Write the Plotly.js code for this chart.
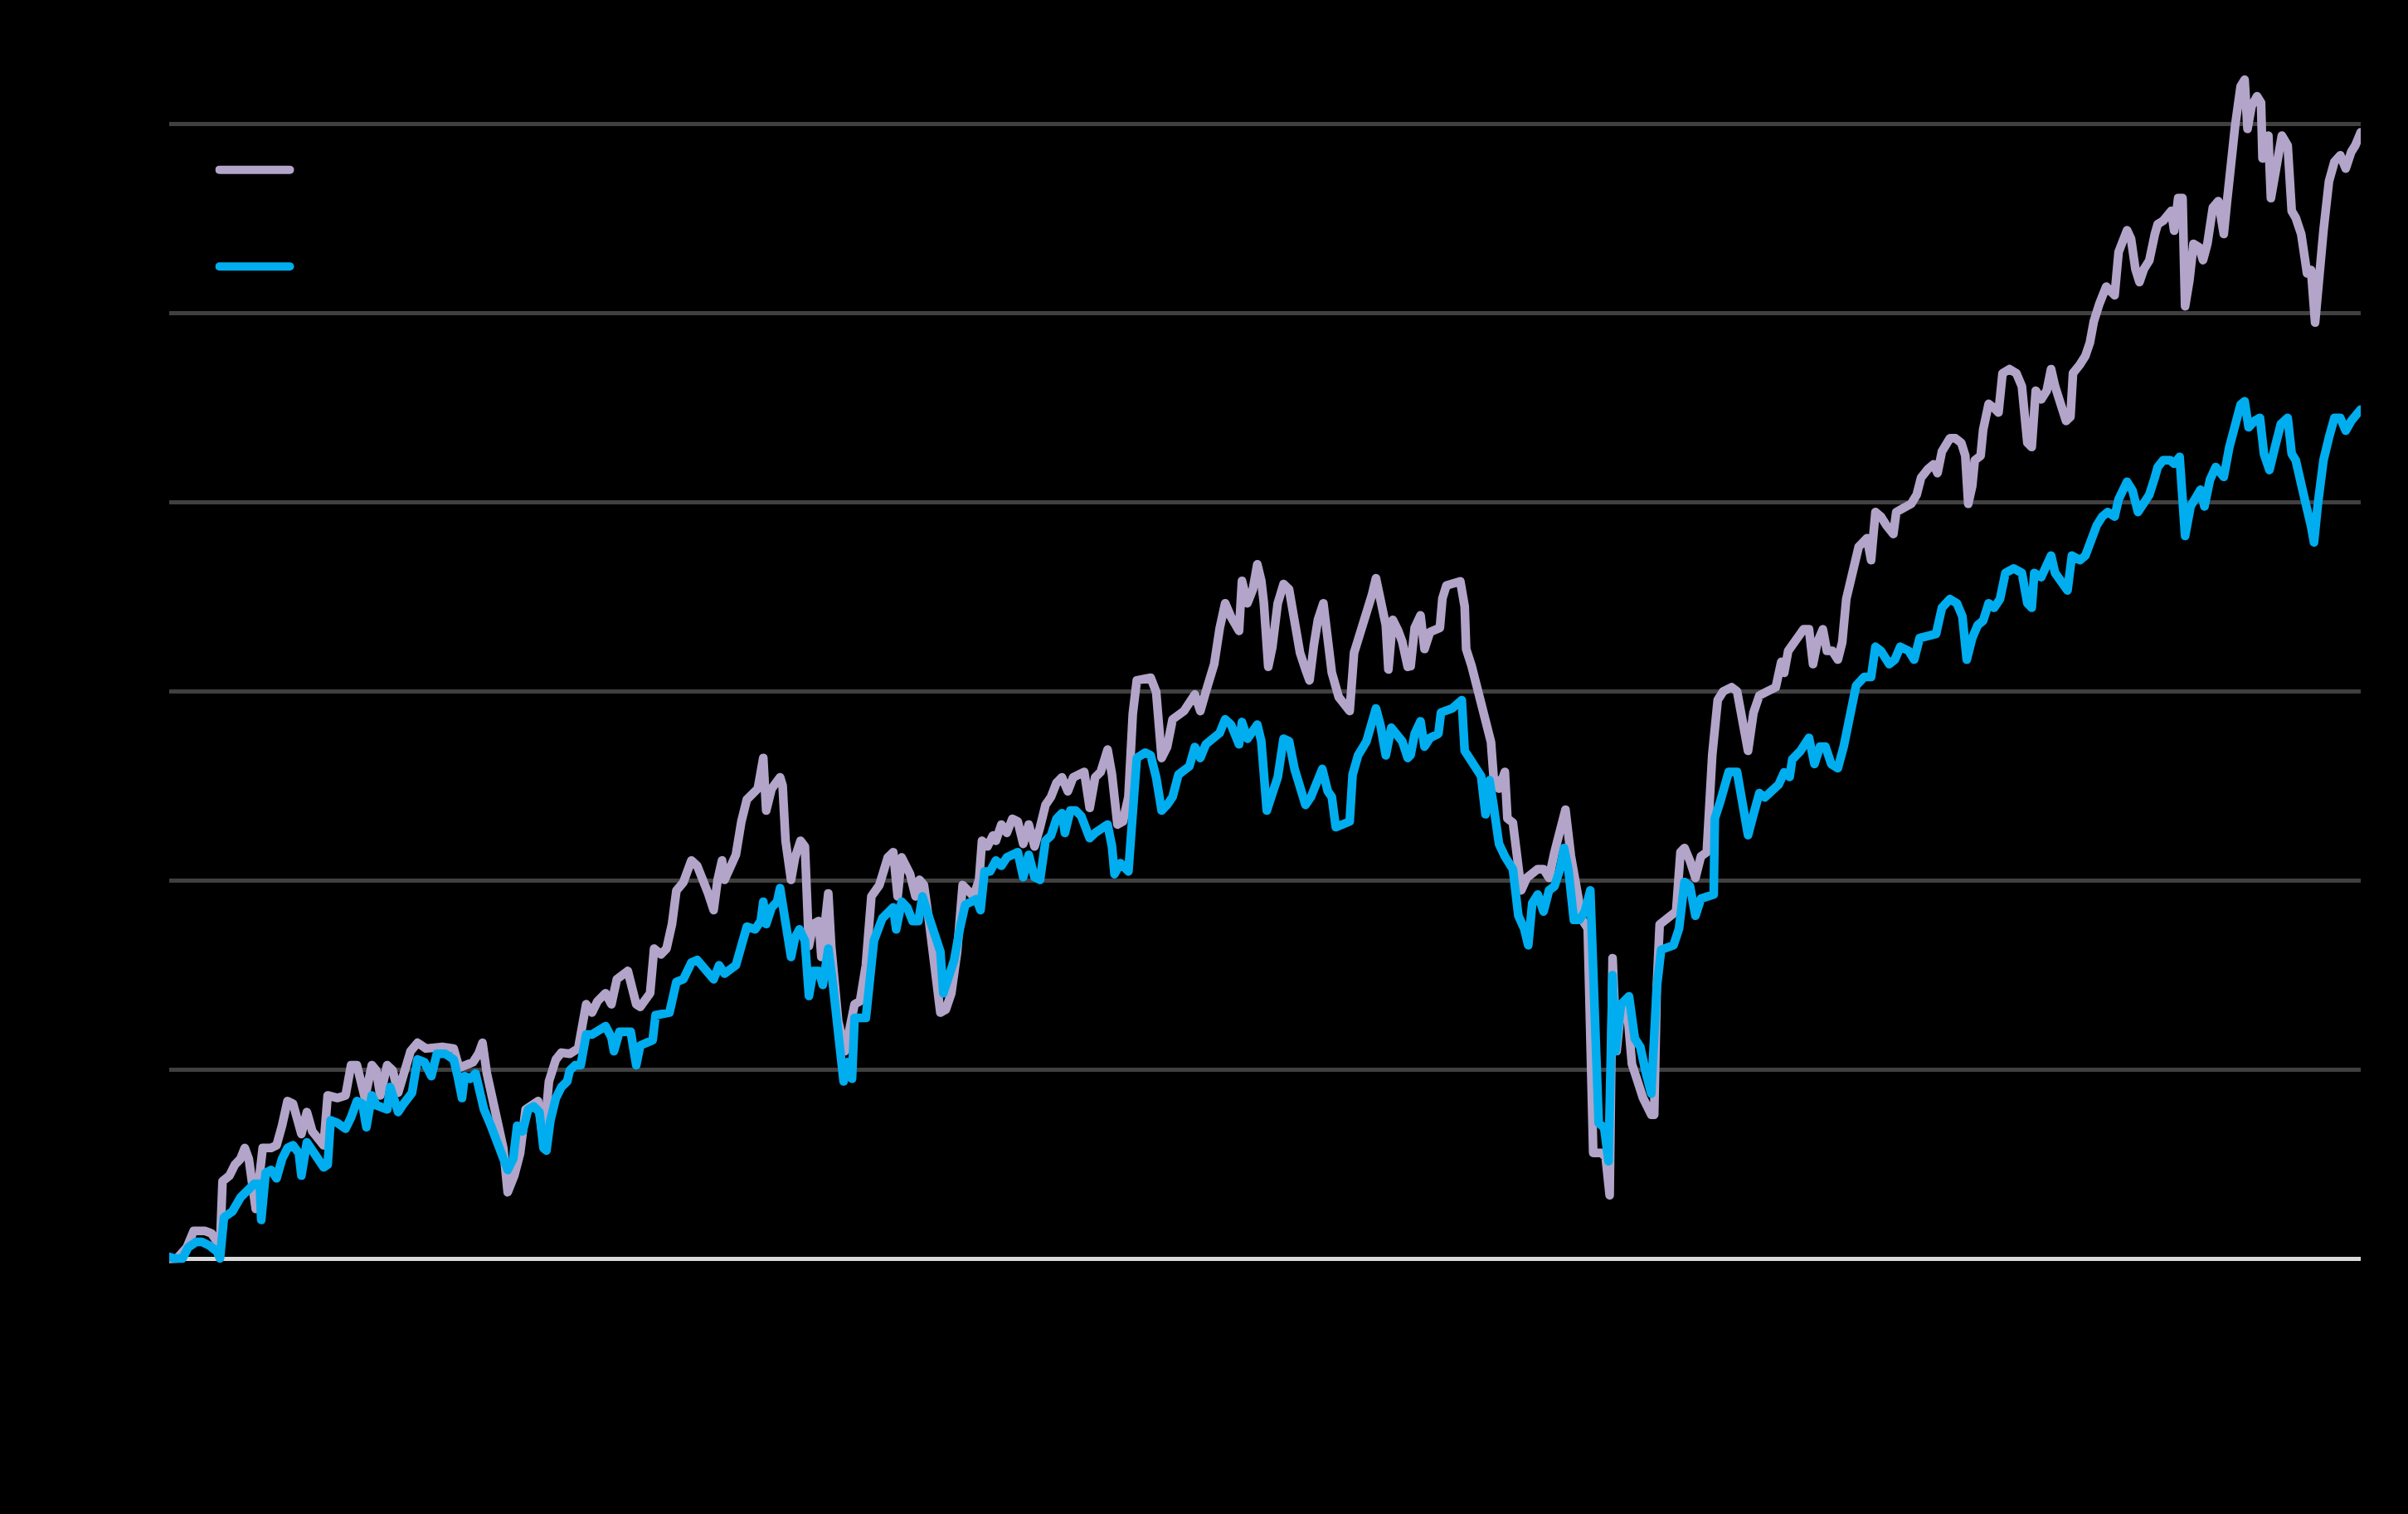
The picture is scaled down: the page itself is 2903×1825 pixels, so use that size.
<!DOCTYPE html>
<html>
<head>
<meta charset="utf-8">
<script src="https://cdn.plot.ly/plotly-3.0.1.min.js"></script>
<style>
  html, body { margin: 0; padding: 0; background: #000000; }
  #chart { width: 2903px; height: 1825px; }
  #chart path.js-line { stroke-linejoin: round; stroke-linecap: round; }
</style>
</head>
<body>
<div id="chart"></div>
<script>
// Cumulative return (%) by week since start
var seriesNames = ["Portfolio", "Benchmark"];

var weeksA = [0,2.1,4.8,6.7,9.7,11.6,13.1,13.9,14.6,16.5,18.0,19.5,20.7,21.8,23.7,25.6,27.9,29.4,30.9,32.4,33.9,36.2,37.7,39.2,42.3,43.4,46.1,48.3,49.8,51.4,53.6,55.5,56.7,57.8,59.7,61.2,62.7,64.2,66.1,68.0,70.3,74.8,77.9,79.4,83.2,84.7,85.8,87.0,88.5,90.0,91.5,92.7,94.5,96.1,97.6,101.0,102.1,103.3,104.0,105.9,107.4,109.7,112.0,
  114.2,115.8,117.3,119.5,121.1,122.6,125.6,127.9,129.0,131.7,132.8,134.7,136.2,137.7,138.9,140.8,143.0,144.6,147.6,149.1,150.2,151.4,152.1,153.6,155.2,156.7,158.2,161.2,162.7,163.5,165.0,167.3,168.0,168.8,170.3,171.4,172.9,174.1,175.2,176.4,177.9,178.6,179.4,180.5,181.3,183.2,185.1,186.6,187.7,189.2,190.8,192.3,194.5,196.8,198.3,199.5,200.6,202.9,204.4,205.5,206.7,208.2,209.7,211.2,212.7,214.2,215.8,217.3,218.8,220.3,221.8,222.6,224.1,225.6,
  226.4,227.9,229.4,230.9,232.4,233.9,235.4,237.0,238.5,240.0,241.5,243.0,244.5,246.1,247.6,250.6,252.1,253.6,255.1,257.0,258.2,259.7,261.2,262.7,263.9,265.0,268.8,270.3,271.8,273.3,274.8,277.9,280.9,282.4,283.9,286.2,287.7,289.2,290.8,293.0,293.8,295.3,296.8,298.0,299.1,299.8,301.0,302.1,303.6,305.2,306.7,308.2,309.7,311.2,312.3,313.5,314.6,316.1,317.3,318.4,320.3,323.3,324.5,326.4,327.9,329.4,330.5,331.7,333.2,333.9,335.1,336.6,337.7,339.2,
  340,341.1,342.7,343.8,345.3,348.0,348.7,349.8,353.6,354.8,355.2,356.7,358.2,359.7,361.2,362.0,362.7,364.2,365.8,366.5,368.0,368.8,370.3,371.8,374.8,376.4,377.9,379.4,380.9,382.4,383.9,385.5,387.0,388.5,390.0,392.3,393.4,394.5,395.3,396.4,397.6,399.1,400.6,402.1,403.6,405.9,406.7,407.4,408.2,411.2,412.7,413.9,415.0,416.5,418.0,419.5,421.1,422.6,424.1,425.6,427.9,429.4,430.9,432.4,433.9,435.5,437.7,440.0,441.5,
  442.3,443.4,445.3,447.6,449.1,450.2,451.4,452.9,454.0,455.5,457.0,458.2,459.3,461.2,462.7,465.0,466.1,467.3,468.8,470.3,472.2,473.0,474.8,477.1,478.6,479.8,481.7,483.2,484.3,485.5,487.7,489.2,490.8,491.9,492.7,493.8,494.5,496.1,496.8,498.3,499.8,501.0,502.1,504.0,505.9,507.4,508.9,510.1,511.2,512.7,514.2,515.4,516.5,518.0,519.5,520.7,521.4,523.3,524.8,526.0,527.1,528.6,530.5,532.8,533.9,536.2,537.3,538.5,539.6,540.8,542.3,543.8,
  544.6,546.1,548.3,549.1,550.2,551.4,552.1,553.3,554.4,555.9,557.0,558.2,559.7,561.2,562.7,563.5,564.6,565.8,567.3,568.4,569.2,570.3,571.8,572.9,573.3,574.9,575.6,577.1,578.6,580.2,581.3,582.4,583.9,585.5,586.6,587.7,588.5,590.0,591.5,593.0,594.6,596.1,597.6,598.7,600.2];

var valuesA = [0,0.1,3.0,7.4,7.4,6.7,4.5,3.0,20.5,22.0,24.9,26.4,29.3,26.4,13.2,29.3,29.3,30.0,35.2,41.7,41.0,33.0,38.8,33.7,30.0,43.2,42.5,43.2,51.2,51.2,42.5,51.2,49.8,43.2,51.2,49.8,43.9,48.3,54.9,57.1,55.6,56.0,55.6,50.5,52.0,54.2,57.1,49.0,41.7,36.6,29.3,17.6,22.0,27.9,39.5,41.7,33.7,39.5,46.9,52.7,54.5,54.2,55.6,
  67.3,65.1,68.1,70.2,67.3,73.9,76.1,67.3,66.6,70.2,82.0,80.5,82.0,88.5,97.3,99.5,105.3,103.9,96.6,92.2,100.2,105.3,100.2,103.1,106.8,115.6,121.4,124.3,132.4,118.5,124.3,127.3,125.1,110.5,100.2,106.1,110.5,109.0,82.7,88.5,89.3,79.8,88.5,96.6,82.7,62.9,54.9,62.9,67.3,68.1,77.6,95.8,98.8,106.1,107.5,95.8,106.1,101.7,95.8,100.2,98.8,88.5,78.3,65.1,65.9,70.2,81.2,98.8,97.3,95.8,100.2,110.5,109.0,111.9,
  110.5,114.8,112.6,116.3,115.6,109.7,114.8,109.0,114.1,120.0,122.1,125.8,127.3,123.6,127.3,128.7,119.2,127.3,128.7,134.6,128.0,114.8,115.6,122.1,144.1,152.9,153.6,149.9,132.4,135.3,142.6,144.8,149.2,144.8,149.9,157.2,166.7,173.3,169.7,166.0,179.2,173.3,177.0,183.6,179.2,173.3,156.5,161.6,173.3,178.4,177.0,166.7,160.2,155.8,152.9,162.3,168.9,173.3,162.3,155.0,148.5,144.8,160.2,166.0,169.7,175.5,179.9,174.8,167.5,155.8,168.9,166.0,163.1,156.5,
  156.7,166.8,170.1,161.2,165.7,166.8,174.6,178.0,179.1,172.4,161.2,156.7,151.1,143.3,138.8,136.6,127.6,124.3,128.7,116.4,115.3,107.5,97.4,100.7,103.0,103.0,100.7,107.5,114.2,118.7,106.4,98.5,89.6,87.3,28.0,28.0,26.9,16.8,79.5,54.9,66.1,68.3,51.5,47.1,42.6,38.1,38.1,71.7,88.4,90.7,91.8,107.5,108.6,105.2,100.7,106.4,107.5,133.2,147.7,150.0,151.1,150.0,141.0,134.3,144.4,148.9,150.0,151.1,157.8,
  154.9,160.7,163.0,166.4,166.4,157.2,163.0,166.4,160.7,160.7,158.4,163.0,174.4,183.6,188.2,190.5,184.7,197.4,196.2,193.9,191.6,197.4,198.5,199.6,202.0,206.5,208.8,210.0,207.7,213.4,216.9,216.9,215.7,212.3,199.6,204.3,211.1,212.3,219.2,226.0,224.9,223.7,234.1,235.2,234.1,230.6,215.7,214.6,229.5,227.2,229.5,235.2,230.6,226.0,221.5,222.6,234.1,236.4,238.7,242.1,247.8,252.4,257.0,254.7,266.2,271.9,269.6,261.6,258.2,261.6,263.9,270.8,
  273.5,274.4,277.0,271.8,280.4,280.4,251.8,258.8,268.3,267.4,264.0,268.3,277.9,279.6,270.9,278.7,290.9,299.5,309.9,311.7,298.7,304.7,307.3,305.6,290.9,296.9,280.4,289.1,296.9,294.3,277.0,275.2,270.9,260.5,261.4,247.5,258.8,271.8,284.8,290.0,291.7,288.2,292.6,294.3,297.8];

var weeksB = [0,1.4,3.6,5.2,7.4,8.9,11.2,13.1,13.9,15.0,17.3,19.5,21.8,23.3,24.8,25.2,26.4,27.9,29.4,30.9,32.4,33.9,35.5,36.2,37.7,39.2,40.8,42.3,43.4,44.2,46.1,48.3,49.8,51.4,52.9,54.0,55.5,56.7,59.7,60.5,62.0,62.7,64.2,66.5,68.0,69.9,71.8,73.3,75.6,77.9,79.0,80.2,80.9,82.4,83.9,85.1,86.2,88.1,90.0,91.5,92.7,94.2,95.3,96.8,98.3,99.8,101.4,102.5,103.3,104.4,105.9,107.4,109.0,109.7,111.2,112.7,
  114.2,115.8,117.3,119.5,121.1,121.8,123.3,126.4,127.9,129.0,132.4,133.2,137.0,138.9,140.8,143.0,144.6,149.1,150.6,152.1,155.2,156.7,158.2,160.5,162.0,162.7,163.5,165.0,166.5,167.3,168.8,170.3,171.4,172.6,174.1,175.2,176.4,177.9,179.0,180.5,181.7,183.2,184.7,185.8,187.0,187.7,190.8,191.9,193.0,195.3,198.3,199.1,200.6,202.1,203.6,205.2,206.3,208.2,209.7,211.2,212.0,213.5,215.0,216.5,218.0,221.1,222.2,223.3,224.8,
  226.4,227.9,229.4,232.4,233.9,235.4,237.0,238.5,240.0,241.5,243.0,244.5,245.3,246.8,248.3,249.8,252.1,253.6,257.0,258.2,258.9,260.5,262.7,263.9,265.0,267.3,268.8,270.3,271.8,273.3,274.8,276.4,279.4,280.9,282.4,283.9,286.2,287.7,289.2,290.8,293.0,293.8,295.3,296.8,298.0,299.1,300.6,302.1,303.6,305.2,306.7,308.2,309.7,311.2,312.7,314.2,315.8,317.3,318.4,319.5,321.8,323.3,324.1,325.6,327.9,329.4,330.5,331.7,333.2,334.7,336.2,337.7,339.2,
  340,341.1,342.7,343.8,345.3,347.6,348.3,351.4,354.0,354.8,356.7,359.3,360.5,361.6,362.7,364.2,365.8,368.0,369.5,371.1,372.2,373.3,374.8,376.4,377.9,379.4,380.9,382.0,383.2,384.7,386.2,387.7,389.2,390.4,391.5,393.0,394.2,395.3,396.1,397.6,399.8,401.4,402.9,404.4,405.9,407.4,408.6,412.0,413.5,415.0,416.5,418.0,419.5,423.0,423.3,424.8,427.1,429.4,430.9,432.4,433.9,435.5,437.0,438.5,440.8,
  442.3,443.8,444.5,446.8,449.1,450.6,452.1,453.6,455.2,457.0,458.6,460.1,462.0,464.2,466.1,467.3,468.8,471.1,472.6,474.1,476.4,477.9,479.4,483.9,485.5,487.7,489.6,491.1,492.3,493.8,495.3,496.8,498.3,499.8,501.4,502.9,505.2,507.4,508.9,510.1,510.8,512.7,515.4,516.5,518.0,519.9,521.1,523.3,524.8,526.4,527.9,529.4,530.9,532.8,533.9,536.2,537.7,539.2,540.8,542.3,543.8,
  544.6,546.1,548.0,549.1,550.6,552.1,553.6,555.2,556.3,557.4,558.9,560.5,562.7,564.2,565.8,567.3,568.4,569.5,571.1,572.6,573.7,575.2,576.7,578.3,580.2,581.3,582.4,583.9,585.1,586.6,587.4,588.5,590.0,591.5,593.0,594.6,596.1,597.6,599.1,600.2];

var valuesB = [0.5,0.1,0.1,3.0,4.5,4.5,3.4,1.9,0.1,11.0,12.5,16.2,18.4,19.8,19.8,10.3,22.7,23.5,21.3,26.4,29.3,30.0,27.9,22.0,30.8,28.6,25.7,24.2,24.9,36.6,35.9,34.4,37.4,41.7,41.0,34.8,43.2,40.6,39.5,45.4,41.0,38.8,41.0,43.9,52.7,52.0,48.3,54.2,54.2,52.7,48.3,42.5,48.3,47.6,49.0,43.2,39.5,35.2,30.8,27.1,23.5,26.4,35.2,33.7,39.5,40.3,38.8,29.3,28.6,36.6,42.5,45.4,46.9,49.8,51.2,51.2,
  59.3,59.3,60.0,61.5,58.6,54.9,60.0,60.0,51.2,56.4,57.8,64.4,65.1,73.2,73.9,78.3,79.0,73.9,77.6,75.4,77.6,83.4,87.8,87.1,89.3,94.4,88.5,92.9,94.4,98.0,88.5,79.8,84.9,87.1,84.1,69.5,76.1,76.1,72.4,82.0,73.2,62.2,46.9,52.0,47.6,63.7,63.7,73.9,84.1,90.0,92.9,87.1,94.4,92.9,89.3,89.3,95.8,90.0,84.9,81.2,70.2,73.9,79.0,87.1,93.6,95.1,92.2,102.4,102.4,
  105.3,103.9,106.1,107.5,100.9,106.8,100.9,100.2,110.5,111.9,116.3,117.8,112.6,118.5,118.5,117.0,111.2,112.6,114.8,109.0,101.7,104.6,102.4,122.1,132.4,133.8,133.1,127.3,118.5,120.0,122.1,128.0,130.2,135.3,132.4,136.0,137.5,139.0,142.6,141.2,136.0,141.9,137.5,139.7,141.2,136.8,118.5,122.9,127.3,137.5,136.8,129.5,125.1,120.0,122.1,126.5,129.5,123.6,122.1,114.1,114.8,115.6,128.0,133.1,136.8,141.2,145.5,141.2,133.1,140.4,138.2,136.8,132.4,
  133.2,138.8,142.1,135.4,137.7,138.8,144.4,145.5,147.7,134.3,131.0,127.6,117.5,126.5,119.8,109.7,106.4,103.0,90.7,87.3,82.9,94.0,96.3,91.8,97.4,98.5,103.0,108.6,103.0,89.6,89.6,91.8,97.4,60.5,35.9,34.7,25.8,75.0,54.9,67.2,69.4,58.2,56.0,49.3,43.7,71.7,81.7,82.9,87.3,99.6,98.5,90.7,95.2,96.3,116.4,120.9,128.7,128.7,118.7,112.0,117.5,123.1,122.0,123.1,125.4,
  128.6,127.4,132.0,134.3,137.7,130.8,135.4,135.4,130.8,129.7,135.4,143.5,151.5,153.8,153.8,161.8,160.7,157.2,158.4,161.8,160.7,158.4,164.1,165.2,172.1,174.4,173.3,169.8,158.4,164.1,167.5,168.7,173.3,172.1,174.4,181.3,182.5,181.3,173.3,172.1,181.3,180.2,185.9,181.3,179.0,176.7,185.9,184.7,185.9,190.5,193.9,196.2,197.4,196.2,200.8,205.4,203.1,197.4,199.6,202.0,206.5,
  209.3,211.1,211.1,210.2,212.0,191.1,198.9,201.5,203.3,198.9,205.9,209.3,206.7,214.5,221.5,225.8,226.7,219.8,221.5,222.3,212.8,208.5,214.5,220.6,222.3,212.8,211.1,205.9,199.8,193.7,189.4,199.8,211.1,217.1,222.3,222.3,218.9,221.5,223.2,224.5];

var yTicks = [0, 50, 100, 150, 200, 250, 300];

var traces = [
  {
    x: weeksA, y: valuesA, name: seriesNames[0], type: "scatter", mode: "lines",
    legendgroup: "a",
    line: { color: "#B3A5C9", width: 10.5 }
  },
  {
    x: weeksB, y: valuesB, name: seriesNames[1], type: "scatter", mode: "lines",
    legendgroup: "b",
    line: { color: "#00AEEF", width: 10.5 }
  }
];

var layout = {
  width: 2903,
  height: 1825,
  paper_bgcolor: "#000000",
  plot_bgcolor: "#000000",
  margin: { l: 204, r: 57, t: 80.6, b: 262.4, pad: 0 },
  font: { family: "Liberation Sans, Arial, sans-serif", color: "#000000", size: 32 },
  showlegend: true,
  legend: {
    x: 0.021, y: 0.935, xanchor: "left", yanchor: "top",
    bgcolor: "rgba(0,0,0,0)", borderwidth: 0,
    font: { size: 32, color: "#000000" },
    itemwidth: 85,
    tracegroupgap: 72
  },
  xaxis: {
    range: [0, 600.2],
    showgrid: false, zeroline: false, showline: false,
    showticklabels: false, ticks: ""
  },
  yaxis: {
    range: [-10, 315],
    tickvals: yTicks,
    showgrid: true, gridcolor: "#404040", gridwidth: 5,
    zeroline: true, zerolinecolor: "#D9D9D9", zerolinewidth: 5,
    showline: false, showticklabels: false, ticks: ""
  }
};

Plotly.newPlot("chart", traces, layout, { staticPlot: true, displayModeBar: false });
</script>
</body>
</html>
